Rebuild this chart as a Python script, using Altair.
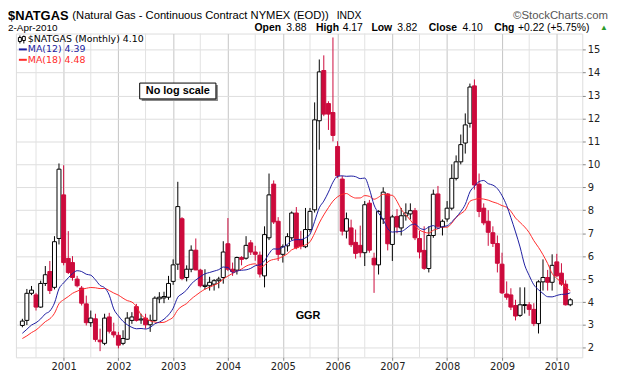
import altair as alt
import pandas as pd

# ---------------- data (monthly candles, Apr 2000 .. Apr 2010) ----------------
first_month = "2000-04-01"
opens = [2.98, 3.20, 4.38, 4.31, 3.78, 4.81, 5.33, 4.64, 6.77,
         8.67, 5.90, 5.72, 5.00, 4.61, 3.92, 3.10, 3.27, 2.34, 2.20, 3.35, 2.70,
         2.55, 2.20, 2.38, 3.20, 3.80, 3.22, 3.30, 3.01, 3.20, 4.14, 4.18, 4.21,
         4.90, 5.65, 7.63, 5.07, 5.43, 6.26, 5.39, 4.68, 4.71, 4.78, 4.93, 5.07,
         6.54, 5.43, 5.39, 5.94, 5.91, 6.58, 6.18, 6.04, 5.14, 6.80, 9.14, 7.52,
         6.08, 6.45, 6.80, 7.88, 6.73, 6.41, 7.16, 8.02, 11.90, 14.09, 12.65, 12.26,
         10.78, 9.36, 7.09, 7.23, 6.60, 6.47, 6.15, 8.31, 5.91, 5.62, 7.62, 8.71,
         6.51, 7.73, 7.23, 7.76, 7.84, 7.98, 6.77, 6.25, 5.46, 6.90, 8.71, 7.27,
         7.62, 8.09, 9.39, 10.11, 10.93, 11.79, 13.42, 9.14, 8.09, 7.52, 7.02, 6.55,
         5.65, 4.35, 4.31, 3.85, 3.42, 3.85, 3.88, 3.68, 3.06, 4.88, 5.07, 4.86,
         5.75, 5.26, 4.78, 3.88]
highs = [3.27, 4.57, 4.70, 4.40, 4.93, 5.57, 5.79, 6.87, 10.04,
         9.96, 7.09, 6.00, 5.14, 4.70, 4.28, 3.63, 3.49, 2.84, 3.49, 3.53, 3.10,
         2.70, 2.77, 3.56, 3.56, 3.92, 3.49, 3.49, 3.45, 4.25, 4.43, 4.45, 5.14,
         5.86, 9.24, 7.70, 5.60, 6.47, 6.77, 5.45, 5.43, 5.10, 5.00, 5.10, 6.65,
         7.66, 5.72, 5.98, 6.00, 6.87, 6.70, 6.45, 6.20, 7.30, 9.60, 9.30, 7.70,
         6.51, 7.00, 7.95, 8.14, 7.10, 8.10, 8.10, 12.70, 14.57, 14.75, 12.75, 15.53,
         11.01, 9.50, 7.90, 7.59, 7.16, 7.33, 8.40, 8.45, 6.15, 8.00, 9.00, 8.75,
         7.80, 8.05, 8.10, 8.30, 8.30, 8.10, 7.10, 7.30, 7.30, 8.90, 9.06, 7.60,
         8.40, 10.00, 10.39, 11.30, 12.22, 13.52, 13.70, 9.60, 8.30, 8.00, 7.30, 6.90,
         6.15, 4.90, 4.60, 4.10, 4.64, 4.64, 4.00, 3.95, 4.95, 5.86, 5.40, 6.08,
         6.10, 5.69, 4.95, 4.17]
lows = [2.90, 3.00, 4.30, 3.63, 3.75, 4.70, 4.35, 4.55, 6.51,
        5.60, 5.22, 4.93, 4.64, 3.85, 2.98, 2.92, 2.27, 1.86, 2.12, 2.63, 2.45,
        1.98, 2.12, 2.35, 3.05, 3.15, 3.05, 2.84, 2.70, 3.15, 3.95, 3.95, 4.10,
        4.75, 5.40, 4.95, 4.90, 5.30, 5.39, 4.64, 4.55, 4.50, 4.50, 4.60, 4.80,
        5.35, 5.14, 5.20, 5.60, 5.85, 6.05, 5.80, 5.07, 4.64, 6.70, 7.40, 5.79,
        5.72, 6.20, 6.70, 6.30, 6.30, 6.35, 7.05, 7.90, 10.64, 12.10, 11.50, 11.00,
        9.40, 6.90, 6.77, 6.40, 5.89, 5.95, 5.57, 6.15, 4.40, 5.20, 7.40, 6.25,
        5.79, 7.00, 6.90, 7.55, 7.60, 6.70, 5.90, 5.40, 5.29, 6.80, 7.20, 6.90,
        7.50, 8.00, 9.30, 10.00, 10.47, 11.60, 8.90, 7.70, 7.35, 6.45, 6.40, 5.29,
        4.35, 4.10, 3.65, 3.20, 3.35, 3.50, 3.40, 2.95, 2.63, 4.50, 4.50, 4.50,
        5.10, 4.70, 3.85, 3.82]
closes = [3.17, 4.38, 4.52, 3.78, 4.81, 5.19, 4.50, 6.63, 9.79,
          5.72, 5.29, 5.07, 4.71, 3.95, 3.10, 3.30, 2.37, 2.27, 3.30, 2.73, 2.57,
          2.12, 2.41, 3.30, 3.35, 3.20, 3.26, 3.01, 3.20, 4.17, 4.21, 4.24, 4.81,
          5.62, 8.16, 5.03, 5.43, 6.26, 5.40, 4.71, 4.73, 4.86, 4.93, 5.00, 6.18,
          5.43, 5.33, 5.94, 5.86, 6.47, 6.18, 6.08, 5.22, 6.94, 8.67, 7.49, 6.08,
          6.41, 6.85, 7.88, 6.37, 6.44, 7.16, 7.95, 11.94, 14.03, 12.19, 12.19, 11.26,
          9.50, 7.09, 7.63, 6.50, 6.12, 6.15, 8.24, 6.26, 5.62, 7.95, 8.79, 6.54,
          7.71, 7.27, 7.76, 7.88, 7.98, 6.80, 6.18, 5.47, 6.90, 8.70, 7.30, 7.52,
          8.09, 9.39, 10.11, 10.86, 11.72, 13.37, 9.10, 7.95, 7.45, 7.04, 6.55, 5.69,
          4.40, 4.21, 3.78, 3.39, 3.88, 3.89, 3.68, 3.06, 4.88, 5.07, 4.86, 5.60,
          5.14, 4.78, 3.88, 4.10]
# closes before the first shown candle (Nov 1998 .. Mar 2000), used only by the moving averages
prior_first_month = "1998-11-01"
prior_closes = [2.30, 1.94, 1.77, 1.63, 1.83, 2.24, 2.30, 2.31, 2.55, 2.82,
                2.55, 3.03, 2.44, 2.33, 2.66, 2.61, 2.90]
price_ticks = list(range(2, 16))
year_ticks = list(range(2001, 2011))
half_year_ticks = list(range(2000, 2010))  # July gridlines

# ---------------- tables ----------------
dates = pd.date_range(first_month, periods=len(closes), freq="MS")
df = pd.DataFrame({"date": dates.strftime("%Y-%m-%d"), "open": opens, "high": highs,
                   "low": lows, "close": closes})
df["up"] = df["close"] >= df["open"]
df["blo"] = df[["open", "close"]].min(axis=1)
df["bhi"] = df[["open", "close"]].max(axis=1)

pdates = pd.date_range(prior_first_month, periods=len(prior_closes), freq="MS")
ma_df = pd.DataFrame({"date": list(pdates.strftime("%Y-%m-%d")) + list(df["date"]),
                      "close": prior_closes + closes})
ma_df["idx"] = range(len(ma_df))
n_prior = len(prior_closes)

jul_df = pd.DataFrame({"date": [f"{y}-07-01" for y in half_year_ticks]})
one = pd.DataFrame({"a": [0]})

RED = "#cc0a3c"
NAVY = "#1c1ca0"
MARED = "#ff2a2a"
W, H = 572, 327

xscale = alt.Scale(type="utc", domain=[alt.DateTime(year=2000, month=3, date=22, utc=True),
                                        alt.DateTime(year=2010, month=5, date=18, utc=True)])
yscale = alt.Scale(domain=[1.59, 15.70], nice=False, zero=False)
xaxis = alt.Axis(values=[alt.DateTime(year=y, month=1, date=1, utc=True) for y in year_ticks],
                 format="%Y", title=None, grid=True, gridColor="#c4c4c4", domain=False,
                 tickSize=3, tickColor="#888", labelFont="DejaVu Sans", labelFontSize=10,
                 labelColor="#222", labelPadding=1)
yaxis = alt.Axis(values=price_ticks, orient="right", title=None, grid=True, gridColor="#dedede",
                 domain=False, tickSize=3, tickColor="#888", labelFont="DejaVu Sans",
                 labelFontSize=10, labelColor="#222", labelPadding=2)

X = alt.X("date:T", scale=xscale, axis=xaxis)

jul = alt.Chart(jul_df).mark_rule(color="#e2e2e2", strokeWidth=1).encode(x=X)

wicks = alt.Chart(df).mark_rule(strokeWidth=1).encode(
    x=X,
    y=alt.Y("low:Q", scale=yscale, axis=yaxis),
    y2="high:Q",
    color=alt.condition(alt.datum.up, alt.value("black"), alt.value(RED)),
)
bodies = alt.Chart(df).mark_bar(size=4, strokeWidth=1).encode(
    x=X,
    y=alt.Y("blo:Q", scale=yscale, axis=yaxis),
    y2="bhi:Q",
    fill=alt.condition(alt.datum.up, alt.value("white"), alt.value(RED)),
    stroke=alt.condition(alt.datum.up, alt.value("black"), alt.value(RED)),
)


def ma_layer(n, color):
    return alt.Chart(ma_df).transform_window(
        ma="mean(close)", frame=[-(n - 1), 0], sort=[alt.SortField("idx")]
    ).transform_filter(alt.datum.idx >= n_prior).mark_line(
        color=color, strokeWidth=1, interpolate="monotone"
    ).encode(x=X, y=alt.Y("ma:Q", scale=yscale, axis=yaxis))


ma18 = ma_layer(18, MARED)
ma12 = ma_layer(12, NAVY)


def txt(s, x, y, size=11, font="Liberation Sans", weight="normal", color="black", align="left"):
    return alt.Chart(one).mark_text(text=s, font=font, fontSize=size, fontWeight=weight,
                                    color=color, align=align, baseline="middle").encode(
        x=alt.value(x), y=alt.value(y))


def box(x1, x2, y1, y2, fill, stroke=None):
    kw = {"fill": fill}
    if stroke:
        kw["stroke"] = stroke
        kw["strokeWidth"] = 1
    return alt.Chart(one).mark_rect(**kw).encode(
        x=alt.value(x1), x2=alt.value(x2), y=alt.value(y1), y2=alt.value(y2))


def seg(x1, x2, y1, y2, color, w=2):
    return alt.Chart(one).mark_rule(color=color, strokeWidth=w).encode(
        x=alt.value(x1), x2=alt.value(x2), y=alt.value(y1), y2=alt.value(y2))


hy1, hy2 = -17.5, -5.5
annot = [
    txt("$NATGAS", -8, hy1, size=13, weight="bold"),
    txt("(Natural Gas - Continuous Contract NYMEX (EOD))", 57, hy1, size=11.3),
    txt("INDX", 324, hy1, size=10.5),
    txt("\u00a9StockCharts.com", 598, hy1, size=11.5, color="#555", align="right"),
    txt("2-Apr-2010", -8, hy2, size=10),
    txt("Open", 241, hy2, size=10.5, weight="bold"),
    txt("3.88", 273, hy2, size=10.5),
    txt("High", 303, hy2, size=10.5, weight="bold"),
    txt("4.17", 330, hy2, size=10.5),
    txt("Low", 359, hy2, size=10.5, weight="bold"),
    txt("3.82", 385, hy2, size=10.5),
    txt("Close", 417, hy2, size=10.5, weight="bold"),
    txt("4.10", 451, hy2, size=10.5),
    txt("Chg", 483, hy2, size=10.5, weight="bold"),
    txt("+0.22 (+5.75%)", 507, hy2, size=10.5),
    txt("\u25b2", 590, hy2, size=8, color="#2a9a2a"),
    # legend
    seg(4, 4, 2, 10, "black", 1),
    box(2.5, 5.5, 4, 8, "white", "black"),
    seg(8, 8, 2, 10, "black", 1),
    box(6.5, 9.5, 3, 7, "white", "black"),
    txt("$NATGAS (Monthly) 4.10", 12, 6, size=9.5, font="DejaVu Sans"),
    seg(3, 11, 16, 16, NAVY),
    txt("MA(12) 4.39", 12, 16, size=9.5, font="DejaVu Sans", color=NAVY),
    seg(3, 11, 26.5, 26.5, MARED),
    txt("MA(18) 4.48", 12, 26.5, size=9.5, font="DejaVu Sans", color=MARED),
    # no log scale box
    box(127, 204, 52, 68, "#888"),
    box(125, 202, 50, 66, "white", "black"),
    txt("No log scale", 163.5, 58, size=11, weight="bold", align="center"),
    txt("GGR", 295, 285, size=11, weight="bold", align="center"),
]

chart = alt.layer(jul, wicks, bodies, ma18, ma12, *annot).properties(
    width=W, height=H,
    autosize=alt.AutoSizeParams(type="none"),
    padding={"left": 8, "top": 24, "right": 30, "bottom": 15},
).configure_view(stroke="#9a9a9a", strokeWidth=1).configure(background="white")

chart.save("out.html", embed_options={"renderer": "svg", "actions": False})
